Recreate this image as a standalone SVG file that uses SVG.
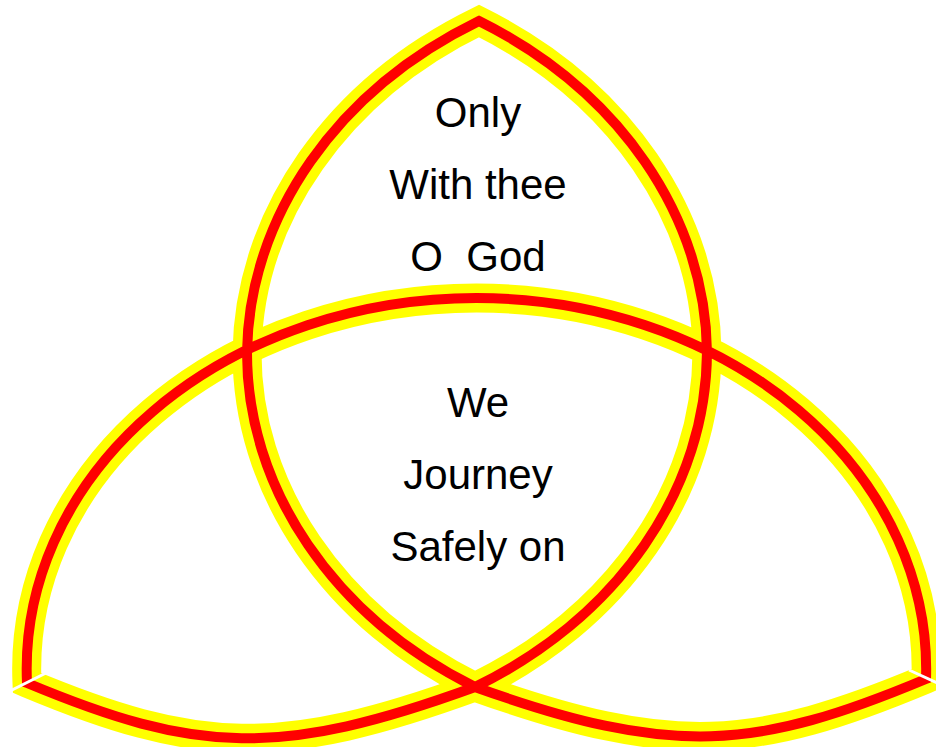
<svg xmlns="http://www.w3.org/2000/svg" xmlns:xlink="http://www.w3.org/1999/xlink" width="936" height="747" viewBox="0 0 936 747">
<style>
.y{fill:none;stroke:#FFFF00;stroke-width:29;stroke-linejoin:miter;stroke-miterlimit:10}
.r{fill:none;stroke:#FF0000;stroke-width:10;stroke-linejoin:miter;stroke-miterlimit:10}
.gap{stroke:#FFFFFF;stroke-width:3;fill:none}
text{font-family:"Liberation Sans",Arial,sans-serif;font-size:42px;fill:#000000;text-anchor:middle}
</style>
<defs>
<path id="knot" d="M27,683 A450,371 0 0 1 476.5,298 A450,371 0 0 1 926,679 C756,750 673,758 475,687 A469,390 0 0 1 247,352 A469,390 0 0 1 479,21 A469,390 0 0 1 707,352 A469,390 0 0 1 475,687 C280,758 197,754 27,683 Z"/>
</defs>
<rect width="936" height="747" fill="#FFFFFF"/>
<g id="knot-shape">
<use href="#knot" xlink:href="#knot" class="y"/>
<use href="#knot" xlink:href="#knot" class="r"/>
<line class="gap" x1="8" y1="692" x2="46" y2="673"/>
<line class="gap" x1="909" y1="670" x2="942" y2="685"/>
</g>
<g id="top-text">
<text x="478" y="127">Only</text>
<text x="478" y="199">With thee</text>
<text x="478" y="271" xml:space="preserve" style="white-space:pre">O  God</text>
</g>
<g id="middle-text">
<text x="478" y="417">We</text>
<text x="478" y="489">Journey</text>
<text x="478" y="561">Safely on</text>
</g>
</svg>
